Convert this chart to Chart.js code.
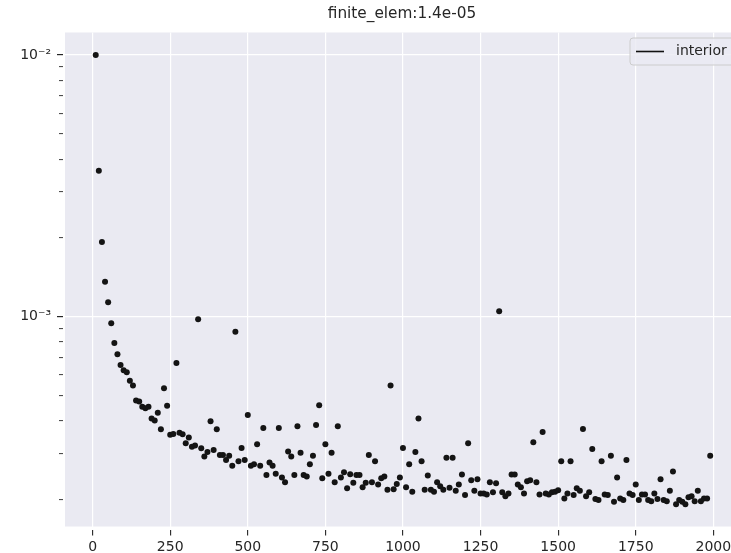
<!DOCTYPE html>
<html>
<head>
<meta charset="utf-8">
<script src="https://cdn.jsdelivr.net/npm/chart.js@4.4.0/dist/chart.umd.min.js"></script>
<style>
  html, body { margin: 0; padding: 0; background: #ffffff; overflow: hidden; }
  #wrap { width: 731px; height: 553px; position: relative; }
</style>
</head>
<body>
<div id="wrap"><canvas id="lossChart" width="731" height="553"></canvas></div>
<script>
// Training iterations (x) and the interior loss recorded at each one (y, log scale)
const iterations = [
  10, 20, 30, 40, 50, 60, 70, 80, 90, 100,
  110, 120, 130, 140, 150, 160, 170, 180, 190, 200,
  210, 220, 230, 240, 250, 260, 270, 280, 290, 300,
  310, 320, 330, 340, 350, 360, 370, 380, 390, 400,
  410, 420, 430, 440, 450, 460, 470, 480, 490, 500,
  510, 520, 530, 540, 550, 560, 570, 580, 590, 600,
  610, 620, 630, 640, 650, 660, 670, 680, 690, 700,
  710, 720, 730, 740, 750, 760, 770, 780, 790, 800,
  810, 820, 830, 840, 850, 860, 870, 880, 890, 900,
  910, 920, 930, 940, 950, 960, 970, 980, 990, 1000,
  1010, 1020, 1030, 1040, 1050, 1060, 1070, 1080, 1090, 1100,
  1110, 1120, 1130, 1140, 1150, 1160, 1170, 1180, 1190, 1200,
  1210, 1220, 1230, 1240, 1250, 1260, 1270, 1280, 1290, 1300,
  1310, 1320, 1330, 1340, 1350, 1360, 1370, 1380, 1390, 1400,
  1410, 1420, 1430, 1440, 1450, 1460, 1470, 1480, 1490, 1500,
  1510, 1520, 1530, 1540, 1550, 1560, 1570, 1580, 1590, 1600,
  1610, 1620, 1630, 1640, 1650, 1660, 1670, 1680, 1690, 1700,
  1710, 1720, 1730, 1740, 1750, 1760, 1770, 1780, 1790, 1800,
  1810, 1820, 1830, 1840, 1850, 1860, 1870, 1880, 1890, 1900,
  1910, 1920, 1930, 1940, 1950, 1960, 1970, 1980, 1990
];

const interiorLoss = [
  1.0e-2, 3.61e-3, 1.93e-3, 1.36e-3, 1.135e-3, 9.44e-4, 7.93e-4, 7.18e-4, 6.54e-4, 6.24e-4,
  6.13e-4, 5.69e-4, 5.45e-4, 4.78e-4, 4.74e-4, 4.53e-4, 4.47e-4, 4.53e-4, 4.08e-4, 4.01e-4,
  4.29e-4, 3.71e-4, 5.32e-4, 4.57e-4, 3.54e-4, 3.56e-4, 6.65e-4, 3.60e-4, 3.55e-4, 3.28e-4,
  3.45e-4, 3.18e-4, 3.22e-4, 9.77e-4, 3.14e-4, 2.92e-4, 3.04e-4, 3.98e-4, 3.09e-4, 3.71e-4,
  2.96e-4, 2.96e-4, 2.83e-4, 2.94e-4, 2.69e-4, 8.76e-4, 2.80e-4, 3.15e-4, 2.83e-4, 4.21e-4,
  2.69e-4, 2.73e-4, 3.25e-4, 2.69e-4, 3.75e-4, 2.48e-4, 2.77e-4, 2.69e-4, 2.51e-4, 3.75e-4,
  2.43e-4, 2.33e-4, 3.05e-4, 2.92e-4, 2.48e-4, 3.81e-4, 3.02e-4, 2.48e-4, 2.45e-4, 2.73e-4,
  2.94e-4, 3.85e-4, 4.59e-4, 2.41e-4, 3.25e-4, 2.51e-4, 3.02e-4, 2.33e-4, 3.81e-4, 2.43e-4,
  2.54e-4, 2.21e-4, 2.50e-4, 2.32e-4, 2.48e-4, 2.48e-4, 2.23e-4, 2.32e-4, 2.96e-4, 2.33e-4,
  2.80e-4, 2.28e-4, 2.41e-4, 2.45e-4, 2.18e-4, 5.45e-4, 2.19e-4, 2.29e-4, 2.43e-4, 3.15e-4,
  2.23e-4, 2.73e-4, 2.14e-4, 3.04e-4, 4.08e-4, 2.80e-4, 2.18e-4, 2.47e-4, 2.18e-4, 2.14e-4,
  2.33e-4, 2.25e-4, 2.18e-4, 2.89e-4, 2.22e-4, 2.89e-4, 2.16e-4, 2.28e-4, 2.49e-4, 2.08e-4,
  3.28e-4, 2.37e-4, 2.16e-4, 2.39e-4, 2.11e-4, 2.11e-4, 2.09e-4, 2.33e-4, 2.13e-4, 2.31e-4,
  1.05e-3, 2.13e-4, 2.06e-4, 2.11e-4, 2.49e-4, 2.49e-4, 2.28e-4, 2.23e-4, 2.11e-4, 2.35e-4,
  2.37e-4, 3.31e-4, 2.33e-4, 2.09e-4, 3.62e-4, 2.11e-4, 2.09e-4, 2.13e-4, 2.14e-4, 2.17e-4,
  2.80e-4, 2.02e-4, 2.11e-4, 2.80e-4, 2.08e-4, 2.21e-4, 2.16e-4, 3.72e-4, 2.06e-4, 2.13e-4,
  3.12e-4, 2.01e-4, 1.99e-4, 2.80e-4, 2.09e-4, 2.08e-4, 2.94e-4, 1.96e-4, 2.43e-4, 2.02e-4,
  1.99e-4, 2.83e-4, 2.11e-4, 2.08e-4, 2.28e-4, 1.99e-4, 2.09e-4, 2.09e-4, 1.99e-4, 1.97e-4,
  2.11e-4, 2.01e-4, 2.39e-4, 1.99e-4, 1.97e-4, 2.16e-4, 2.56e-4, 1.92e-4, 1.99e-4, 1.96e-4,
  1.92e-4, 2.04e-4, 2.06e-4, 1.97e-4, 2.16e-4, 1.97e-4, 2.02e-4, 2.02e-4, 2.94e-4
];

// Axis ticks: labelled x positions, and the log-scale y ticks (decades get a label, the rest are minor)
const xTickValues = [0, 250, 500, 750, 1000, 1250, 1500, 1750, 2000];
const yTickValues = [2e-4, 3e-4, 4e-4, 5e-4, 6e-4, 7e-4, 8e-4, 9e-4,
                     1e-3, 2e-3, 3e-3, 4e-3, 5e-3, 6e-3, 7e-3, 8e-3, 9e-3, 1e-2];
const yDecadeValues = [1e-3, 1e-2];
const yDecadeLabels = ['10⁻³', '10⁻²'];

const chartTitle = 'finite_elem:1.4e-05';
const seriesName = 'interior';

const TEXT = '#262626';
const FONT = '"DejaVu Sans", "Liberation Sans", sans-serif';

function decadeIndex(v) {
  return yDecadeValues.findIndex(d => Math.abs(v - d) / d < 1e-6);
}

// Grey plotting panel behind the grid
const panelBackground = {
  id: 'panelBackground',
  beforeDraw(chart) {
    const { ctx, chartArea: a } = chart;
    ctx.save();
    ctx.fillStyle = '#EAEAF2';
    ctx.fillRect(a.left, a.top, a.right - a.left, a.bottom - a.top);
    ctx.restore();
  }
};

// Title above the panel and the legend box in its top-right corner
const titleAndLegend = {
  id: 'titleAndLegend',
  afterDraw(chart) {
    const { ctx } = chart;
    ctx.save();
    ctx.fillStyle = TEXT;
    ctx.font = '15.3px ' + FONT;
    ctx.textAlign = 'center';
    ctx.textBaseline = 'middle';
    ctx.fillText(chartTitle, 402, 14);

    const bx = 630, by = 38, bw = 120, bh = 27, r = 3;
    ctx.beginPath();
    ctx.moveTo(bx + r, by);
    ctx.lineTo(bx + bw - r, by);
    ctx.arcTo(bx + bw, by, bx + bw, by + r, r);
    ctx.lineTo(bx + bw, by + bh - r);
    ctx.arcTo(bx + bw, by + bh, bx + bw - r, by + bh, r);
    ctx.lineTo(bx + r, by + bh);
    ctx.arcTo(bx, by + bh, bx, by + bh - r, r);
    ctx.lineTo(bx, by + r);
    ctx.arcTo(bx, by, bx + r, by, r);
    ctx.closePath();
    ctx.fillStyle = 'rgba(234,234,242,0.8)';
    ctx.fill();
    ctx.strokeStyle = '#cccccc';
    ctx.lineWidth = 1;
    ctx.stroke();

    const ly = by + bh / 2;
    ctx.beginPath();
    ctx.moveTo(636, ly);
    ctx.lineTo(664, ly);
    ctx.strokeStyle = '#111111';
    ctx.lineWidth = 1.6;
    ctx.stroke();

    ctx.fillStyle = TEXT;
    ctx.font = '14px ' + FONT;
    ctx.textAlign = 'left';
    ctx.fillText(seriesName, 676, ly);
    ctx.restore();
  }
};

new Chart(document.getElementById('lossChart'), {
  type: 'scatter',
  data: {
    datasets: [{
      label: seriesName,
      data: iterations.map((x, i) => ({ x, y: interiorLoss[i] })),
      pointRadius: 3,
      pointHoverRadius: 3,
      pointBackgroundColor: '#141414',
      pointBorderWidth: 0,
      showLine: false
    }]
  },
  options: {
    responsive: false,
    animation: false,
    devicePixelRatio: 1,
    layout: { autoPadding: false, padding: { top: 32.5, right: 0, bottom: 0, left: 0 } },
    plugins: {
      legend: { display: false },
      title: { display: false },
      tooltip: { enabled: false }
    },
    scales: {
      x: {
        type: 'linear',
        min: -89,
        max: 2057,
        afterBuildTicks(scale) { scale.ticks = xTickValues.map(v => ({ value: v })); },
        afterFit(scale) {
          scale.height = 26.5;
          scale.paddingLeft = 0;
          scale.paddingRight = 0;
        },
        border: { display: false },
        grid: {
          color: '#ffffff',
          lineWidth: 1.2,
          drawTicks: true,
          tickLength: 9,
          tickColor: TEXT,
          tickWidth: 1.1,
          tickBorderDash: [0, 3, 6, 20]
        },
        ticks: {
          autoSkip: false,
          maxRotation: 0,
          padding: 5,
          color: TEXT,
          font: { family: FONT, size: 14, lineHeight: 1 },
          callback: v => String(v)
        }
      },
      y: {
        type: 'logarithmic',
        min: 1.577e-4,
        max: 1.22e-2,
        afterBuildTicks(scale) { scale.ticks = yTickValues.map(v => ({ value: v })); },
        afterFit(scale) {
          scale.width = 65;
          scale.paddingTop = 0;
          scale.paddingBottom = 0;
        },
        border: { display: false },
        grid: {
          color: ctx => (ctx.tick && decadeIndex(ctx.tick.value) >= 0) ? '#ffffff' : 'rgba(0,0,0,0)',
          lineWidth: 1.2,
          drawTicks: true,
          tickLength: 8,
          tickColor: TEXT,
          tickWidth: ctx => (ctx.tick && decadeIndex(ctx.tick.value) >= 0) ? 1.2 : 0.9,
          tickBorderDash: ctx => (ctx.tick && decadeIndex(ctx.tick.value) >= 0) ? [6, 20] : [0, 2, 4, 20]
        },
        ticks: {
          autoSkip: false,
          padding: 6,
          color: TEXT,
          font: { family: FONT, size: 14 },
          callback: v => {
            const k = decadeIndex(v);
            return k >= 0 ? yDecadeLabels[k] : '';
          }
        }
      }
    }
  },
  plugins: [panelBackground, titleAndLegend]
});
</script>
</body>
</html>
